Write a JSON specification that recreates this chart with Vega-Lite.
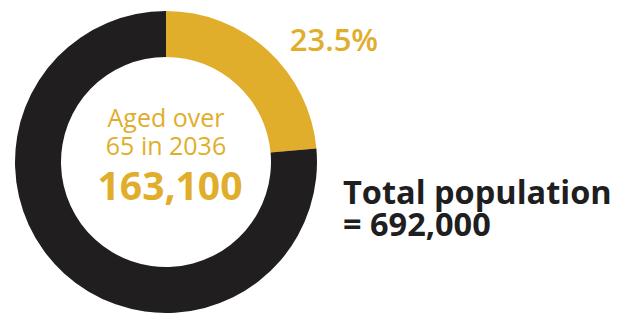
{
  "$schema": "https://vega.github.io/schema/vega-lite/v6.json",
  "width": 332,
  "height": 324,
  "padding": {"left": 0, "top": 0, "right": 0, "bottom": 0},
  "background": "white",
  "config": {"view": {"stroke": null}, "font": "Open Sans"},
  "data": {"values": [
    {"group": "Aged over 65", "value": 163100, "label": "23.5%"},
    {"group": "Other", "value": 528900, "label": ""}
  ]},
  "layer": [
    {
      "mark": {"type": "arc", "outerRadius": 151, "innerRadius": 105, "strokeWidth": 0},
      "encoding": {
        "theta": {"field": "value", "type": "quantitative", "stack": true},
        "color": {"field": "group", "type": "nominal", "scale": {"domain": ["Aged over 65", "Other"], "range": ["#E0AE2A", "#201E1F"]}, "legend": null}
      }
    },
    {
      "mark": {"type": "text", "radius": 170, "align": "left", "baseline": "middle", "dx": 9, "dy": 5, "fontSize": 31, "fontWeight": 600, "color": "#E0AE2A", "font": "Open Sans"},
      "encoding": {
        "theta": {"field": "value", "type": "quantitative", "stack": true},
        "order": {"field": "group", "type": "nominal"},
        "text": {"field": "label", "type": "nominal"}
      }
    },
    {
      "data": {"values": [{"t": "Aged over"}]},
      "mark": {"type": "text", "align": "center", "baseline": "alphabetic", "dy": -35, "fontSize": 25, "fontWeight": 500, "color": "#E0AE2A", "font": "Open Sans"},
      "encoding": {"text": {"field": "t", "type": "nominal"}}
    },
    {
      "data": {"values": [{"t": "65 in 2036"}]},
      "mark": {"type": "text", "align": "center", "baseline": "alphabetic", "dy": -7, "fontSize": 25, "fontWeight": 500, "color": "#E0AE2A", "font": "Open Sans"},
      "encoding": {"text": {"field": "t", "type": "nominal"}}
    },
    {
      "data": {"values": [{"t": "163,100"}]},
      "mark": {"type": "text", "align": "center", "baseline": "alphabetic", "dy": 38, "dx": 4, "fontSize": 39, "fontWeight": 700, "color": "#E0AE2A", "font": "Open Sans"},
      "encoding": {"text": {"field": "t", "type": "nominal"}}
    },
    {
      "data": {"values": [{"t": "Total population"}]},
      "mark": {"type": "text", "align": "left", "baseline": "alphabetic", "dx": 177, "dy": 42, "fontSize": 32.5, "fontWeight": 700, "color": "#201E1F", "font": "Open Sans"},
      "encoding": {"text": {"field": "t", "type": "nominal"}}
    },
    {
      "data": {"values": [{"t": "= 692,000"}]},
      "mark": {"type": "text", "align": "left", "baseline": "alphabetic", "dx": 177, "dy": 74, "fontSize": 32.5, "fontWeight": 700, "color": "#201E1F", "font": "Open Sans"},
      "encoding": {"text": {"field": "t", "type": "nominal"}}
    }
  ]
}
